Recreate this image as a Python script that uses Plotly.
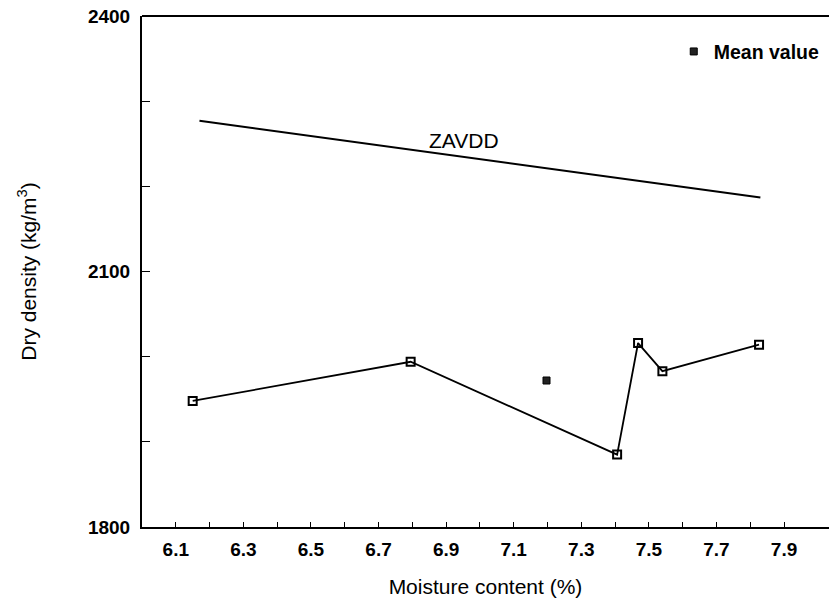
import plotly.graph_objects as go

# Data
moisture = [6.15, 6.795, 7.406, 7.468, 7.54, 7.826]
density = [1948, 1994, 1885, 2016, 1983, 2014]

mean_x = [7.197]
mean_y = [1972]

zavdd_x = [6.17, 7.83]
zavdd_y = [2277, 2187]
zavdd_label_pos = (6.953, 2254)

x_tickvals = [6.1, 6.2, 6.3, 6.4, 6.5, 6.6, 6.7, 6.8, 6.9, 7.0,
              7.1, 7.2, 7.3, 7.4, 7.5, 7.6, 7.7, 7.8, 7.9]
x_ticktext = ["<b>6.1</b>", "", "<b>6.3</b>", "", "<b>6.5</b>", "", "<b>6.7</b>", "", "<b>6.9</b>", "",
              "<b>7.1</b>", "", "<b>7.3</b>", "", "<b>7.5</b>", "", "<b>7.7</b>", "", "<b>7.9</b>"]
y_tickvals = [1800, 1900, 2000, 2100, 2200, 2300, 2400]
y_ticktext = ["<b>1800</b>", "", "", "<b>2100</b>", "", "", "<b>2400</b>"]

font_family = "Liberation Sans, Arial, sans-serif"

fig = go.Figure()

fig.add_trace(go.Scatter(
    x=zavdd_x, y=zavdd_y, mode="lines",
    line=dict(color="black", width=2),
    showlegend=False, hoverinfo="skip"))

fig.add_trace(go.Scatter(
    x=moisture, y=density, mode="lines+markers",
    line=dict(color="black", width=1.8),
    marker=dict(symbol="square-open", size=8, color="black",
                line=dict(width=2, color="black")),
    showlegend=False))

fig.add_trace(go.Scatter(
    x=mean_x, y=mean_y, mode="markers", name="<b>Mean value</b>",
    marker=dict(symbol="square", size=7, color="#222222",
                line=dict(width=1, color="black")),
    showlegend=True))

fig.add_annotation(x=zavdd_label_pos[0], y=zavdd_label_pos[1], text="ZAVDD",
                   showarrow=False, font=dict(size=21, color="black", family=font_family))

fig.update_layout(
    width=829, height=605,
    margin=dict(l=142, r=0, t=16, b=78),
    paper_bgcolor="white", plot_bgcolor="white",
    font=dict(family=font_family, color="black", size=20),
    legend=dict(x=0.774, y=0.93, xanchor="left", yanchor="middle",
                font=dict(size=19.5, color="black"),
                bgcolor="rgba(0,0,0,0)", itemwidth=30),
)

fig.update_xaxes(
    range=[6.0, 8.033],
    tickvals=x_tickvals, ticktext=x_ticktext,
    ticks="inside", ticklen=5, tickwidth=1.3, tickcolor="black",
    showline=True, linecolor="black", linewidth=2, mirror=False,
    showgrid=False, zeroline=False,
    tickfont=dict(size=19, color="black", family=font_family),
    ticklabelstandoff=4,
    title=dict(text="Moisture content (%)", standoff=21,
               font=dict(size=21, color="black", family=font_family)),
)

fig.update_yaxes(
    range=[1800, 2400],
    tickvals=y_tickvals, ticktext=y_ticktext,
    ticks="inside", ticklen=8, tickwidth=1.3, tickcolor="black",
    showline=True, linecolor="black", linewidth=2, mirror=False,
    showgrid=False, zeroline=False,
    tickfont=dict(size=19, color="black", family=font_family),
    ticklabelstandoff=6,
    title=dict(text="Dry density (kg/m<sup>3</sup>)", standoff=46,
               font=dict(size=21, color="black", family=font_family)),
)

# top border line
fig.add_shape(type="line", xref="paper", yref="paper", x0=0, x1=1, y0=1, y1=1,
              line=dict(color="black", width=2))

fig.write_html("out.html")
